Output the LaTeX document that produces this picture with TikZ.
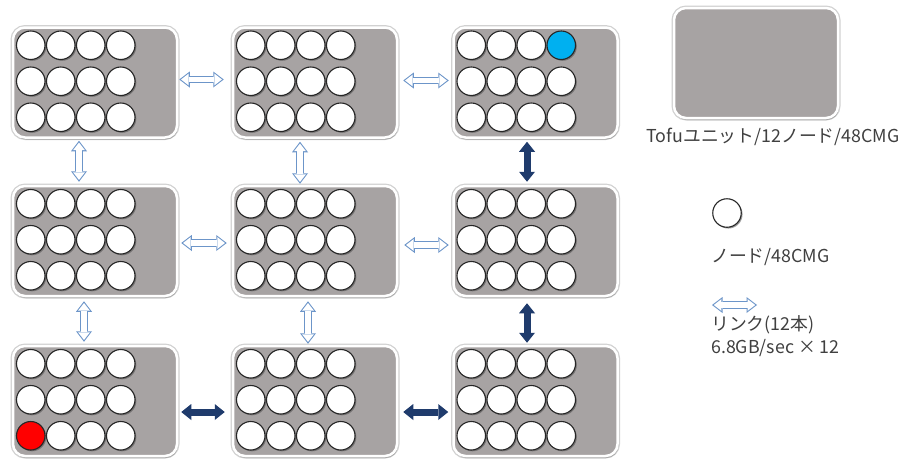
\documentclass[tikz,border=0pt]{standalone}
\usepackage{fontspec}
\setmainfont{Noto Sans CJK JP}
\usetikzlibrary{arrows.meta,shadows,calc}
\definecolor{unitgray}{HTML}{A7A3A3}
\definecolor{linkblue}{HTML}{6C95C9}
\definecolor{navy}{HTML}{1F3B6C}
\definecolor{cmgblue}{HTML}{00B0F0}
\definecolor{txt}{HTML}{404040}
\begin{document}
\begin{tikzpicture}[x=1pt,y=-1pt,
  unit/.style={draw=white, line width=2.5pt, fill=unitgray, rounded corners=12pt,
    minimum width=164pt, minimum height=110pt, inner sep=0pt,
    preaction={draw=black!18, line width=5pt},
    drop shadow={shadow xshift=0.8pt, shadow yshift=-2pt, opacity=0.4, fill=black!60}},
  cmg/.style={circle, draw=black!85, line width=1.1pt, fill=white, inner sep=0pt,
    minimum size=28.5pt,
    drop shadow={shadow xshift=1.3pt, shadow yshift=-1.3pt, opacity=0.55, fill=black!70}},
  link/.style={draw=linkblue, line width=7.5pt,
    {Triangle[length=10.5pt,width=16pt,line width=0pt]}-{Triangle[length=10.5pt,width=16pt,line width=0pt]},
    postaction={draw=white, line width=5.3pt, shorten <=1.8pt, shorten >=1.8pt,
      {Triangle[length=7.6pt,width=11.8pt,line width=0pt]}-{Triangle[length=7.6pt,width=11.8pt,line width=0pt]}}},
  fatlink/.style={draw=navy, line width=7pt,
    {Triangle[length=10pt,width=16pt,line width=0pt]}-{Triangle[length=10pt,width=16pt,line width=0pt]}},
  label/.style={text=txt, font=\fontsize{17.8}{21}\selectfont, inner sep=0pt},
  % highlighted CMGs
  n13-14/.style={fill=cmgblue},
  n31-31/.style={fill=red},
]
\fill[white] (0,0) rectangle (904,461);
\useasboundingbox (0,0) rectangle (904,461);

% 3x3 grid of Tofu units, each holding 3x4 nodes
\foreach \col/\x in {1/95,2/315,3/535.5}{
  \foreach \row/\y in {1/82.5,2/241,3/401}{
    \node[unit] (u\row\col) at (\x,\y) {};
    \foreach \i in {1,2,3}{
      \foreach \j in {1,2,3,4}{
        \node[cmg, n\row\col-\i\j/.try] (n\row\col-\i\j)
          at ($(u\row\col.north west)+(19+30*\j-30, 19+36*\i-36)$) {};
      }
    }
  }
}

% horizontal links
\draw[link] ($(u11.east)+(1,-3)$) -- ($(u12.west)+(-8,-3)$);
\draw[link] ($(u12.east)+(5,-2)$) -- ($(u13.west)+(-3.5,-2)$);
\draw[link] ($(u21.east)+(3,2)$) -- ($(u22.west)+(-5,2)$);
\draw[link] ($(u22.east)+(6,4)$) -- ($(u23.west)+(-3.5,4)$);
\draw[fatlink] ($(u31.east)+(3,11)$) -- ($(u32.west)+(-7,11)$);
\draw[fatlink] ($(u32.east)+(5,11)$) -- ($(u33.west)+(-4,11)$);

% vertical links
\draw[link] ($(u11.south)+(-16,2)$) -- ($(u21.north)+(-16,-3)$);
\draw[link] ($(u12.south)+(-15,3)$) -- ($(u22.north)+(-15,-1)$);
\draw[link] ($(u21.south)+(-11,4)$) -- ($(u31.north)+(-11,-3)$);
\draw[link] ($(u22.south)+(-7,4)$) -- ($(u32.north)+(-7,-1)$);
\draw[fatlink] ($(u13.south)+(-8.5,3)$) -- ($(u23.north)+(-8.5,-3)$);
\draw[fatlink] ($(u23.south)+(-8.5,6)$) -- ($(u33.north)+(-8.5,-2)$);

% legend
\node[unit] (legunit) at (756,63) {};
\node[label] (legunittext) at (773,137) {Tofuユニット/12ノード/48CMG};
\node[cmg] (legcmg) at (727,213) {};
\node[label, anchor=west] (legcmgtext) at (711,257) {ノード/48CMG};
\coordinate (legA) at (712,305);
\coordinate (legB) at (757,305);
\draw[link] (legA) -- (legB);
\node[label, anchor=west] (leglinktext) at (711,325) {リンク(12本)};
\node[label, anchor=west] (legbwtext) at (711,348) {6.8GB/sec × 12};
\end{tikzpicture}
\end{document}
